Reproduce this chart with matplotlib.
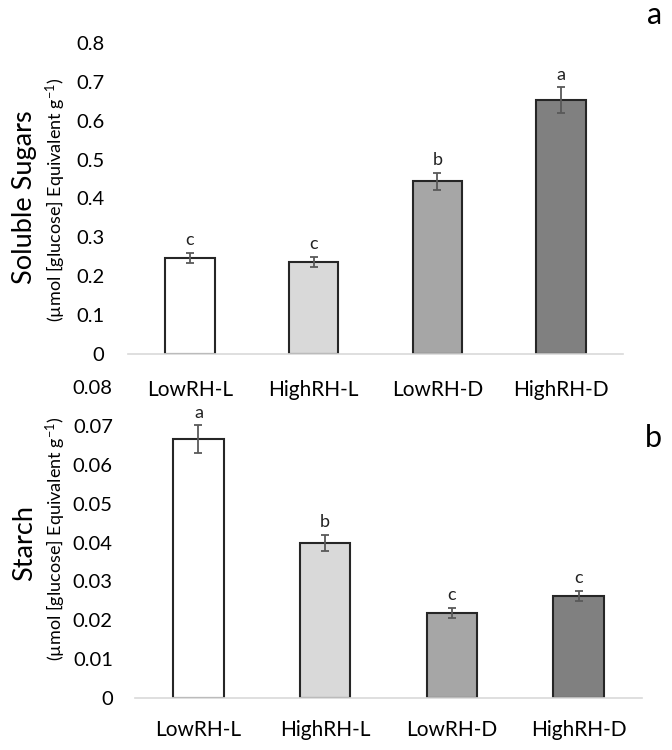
import numpy as np
import matplotlib
matplotlib.use("Agg")
import matplotlib.pyplot as plt

plt.rcParams['font.family'] = ['Lato', 'DejaVu Sans']
plt.rcParams['mathtext.default'] = 'regular'

groups = ["LowRH-L", "HighRH-L", "LowRH-D", "HighRH-D"]
colors = ["#ffffff", "#d9d9d9", "#a6a6a6", "#808080"]

sugars = [0.248, 0.237, 0.444, 0.653]
sugars_err = [0.013, 0.013, 0.022, 0.033]
sugars_letters = ["c", "c", "b", "a"]

starch = [0.0666, 0.0399, 0.0219, 0.0262]
starch_err = [0.0035, 0.0020, 0.0013, 0.0013]
starch_letters = ["a", "b", "c", "c"]

fig = plt.figure(figsize=(6.72, 7.5), dpi=100)
ax1 = fig.add_axes([0.1905, 0.528, 0.7366, 0.4147])
ax2 = fig.add_axes([0.2009, 0.0693, 0.7545, 0.4147])
ax1.set_zorder(2)
ax1.patch.set_alpha(0)
ax2.patch.set_alpha(0)


def draw(ax, vals, errs, letters, ymax, step, fmt, off, xpad, ypad):
    x = np.arange(len(groups))
    ax.bar(x, vals, width=0.4, color=colors, edgecolor="#262626", linewidth=1.5, zorder=2)
    ax.errorbar(x, vals, yerr=errs, fmt="none", ecolor="#595959", elinewidth=1.3,
                capsize=3, capthick=1.3, zorder=3)
    for xi, v, e, l in zip(x, vals, errs, letters):
        ax.text(xi, v + e + off, l, ha="center", va="bottom", fontsize=13, color="#222222")
    ax.set_xlim(-0.5, 3.5)
    ax.set_ylim(0, ymax)
    ticks = np.arange(0, ymax + step / 2, step)
    ax.set_yticks(ticks)
    ax.set_yticklabels([fmt(t) for t in ticks])
    ax.set_xticks(x)
    ax.set_xticklabels(groups, fontsize=15)
    for s in ["top", "right", "left"]:
        ax.spines[s].set_visible(False)
    ax.spines["bottom"].set_color("#d9d9d9")
    ax.spines["bottom"].set_linewidth(1.2)
    ax.tick_params(axis="both", length=0, colors="#000000")
    ax.tick_params(axis="y", labelsize=14.5, pad=ypad)
    ax.tick_params(axis="x", pad=xpad)


draw(ax1, sugars, sugars_err, sugars_letters, 0.8, 0.1,
     lambda t: "0" if t == 0 else f"{t:.1f}", 0.012, 19, 17)
draw(ax2, starch, starch_err, starch_letters, 0.08, 0.01,
     lambda t: "0" if t == 0 else f"{t:.2f}", 0.0012, 16, 16)

fig.text(25 / 672, 1 - 197 / 750, "Soluble Sugars", rotation=90, ha="center", va="center", fontsize=19.5)
fig.text(56 / 672, 1 - 200 / 750, "(µmol [glucose] Equivalent g$^{-1}$)", rotation=90,
         ha="center", va="center", fontsize=13)
fig.text(25 / 672, 1 - 543 / 750, "Starch", rotation=90, ha="center", va="center", fontsize=19.5)
fig.text(56 / 672, 1 - 539 / 750, "(µmol [glucose] Equivalent g$^{-1}$)", rotation=90,
         ha="center", va="center", fontsize=13)

fig.text(655 / 672, 1 - 15 / 750, "a", ha="center", va="center", fontsize=22)
fig.text(653 / 672, 1 - 438 / 750, "b", ha="center", va="center", fontsize=22)

fig.savefig("out.png", dpi=100, facecolor="white")
